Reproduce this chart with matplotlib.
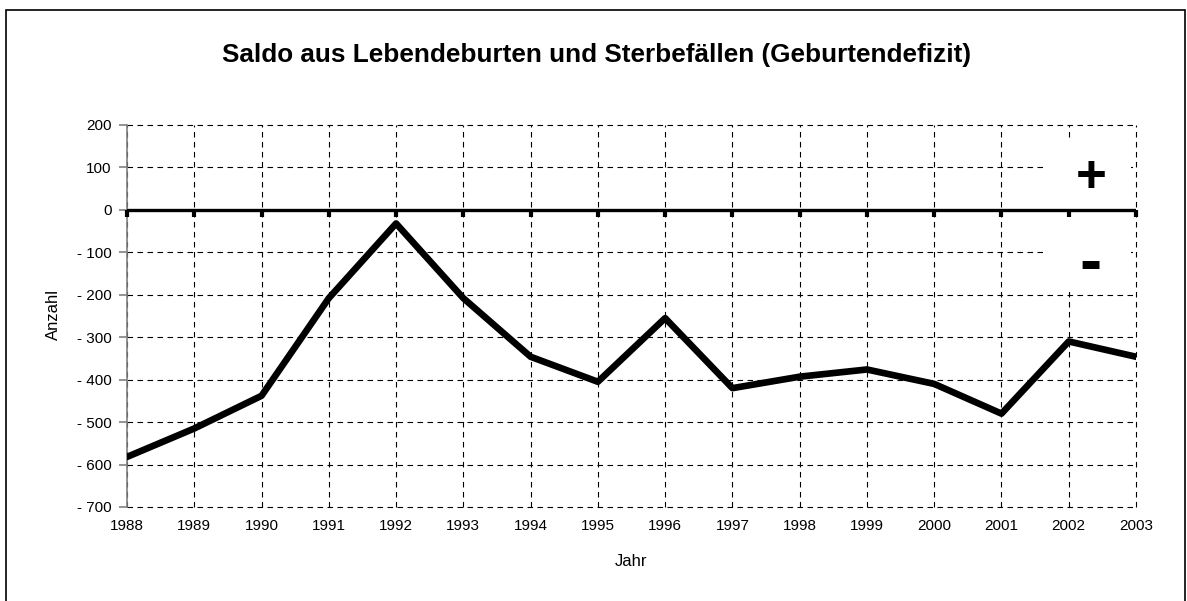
import matplotlib.pyplot as plt
from matplotlib.patches import Rectangle
from matplotlib.ticker import FuncFormatter

plt.rcParams['font.family'] = ['Liberation Sans', 'DejaVu Sans']

# Data
years = [1988, 1989, 1990, 1991, 1992, 1993, 1994, 1995,
         1996, 1997, 1998, 1999, 2000, 2001, 2002, 2003]
saldo = [-582, -515, -438, -208, -32, -208, -346, -405,
         -255, -420, -393, -376, -410, -480, -310, -346]
yticks = [200, 100, 0, -100, -200, -300, -400, -500, -600, -700]

fig = plt.figure(figsize=(11.87, 6.01), dpi=100)
ax = fig.add_axes([127 / 1187, 1 - 507 / 601, (1136 - 127) / 1187, (507 - 125) / 601])

# outer frame
fig.patches.append(Rectangle((6 / 1187, -0.05), (1186 - 6) / 1187 - 0.001, 1 - 10 / 601 + 0.05,
                             transform=fig.transFigure, fill=False, edgecolor='black', lw=1.2))

ax.set_xlim(years[0], years[-1])
ax.set_ylim(-700, 200)
ax.set_xticks(years)
ax.set_yticks(yticks)

def fmt(v, pos):
    v = int(round(v))
    return '- %d' % abs(v) if v < 0 else '%d' % v

ax.yaxis.set_major_formatter(FuncFormatter(fmt))
ax.tick_params(axis='x', length=0, pad=9, labelsize=11)
ax.tick_params(axis='y', length=6, width=1.2, color='#808080', labelsize=11, pad=5)

for s in ['top', 'right', 'bottom']:
    ax.spines[s].set_visible(False)
ax.spines['left'].set_color('#808080')
ax.spines['left'].set_linewidth(1.2)

ax.grid(True, color='black', linestyle=(0, (5, 4)), linewidth=0.8, zorder=0)
ax.set_axisbelow(True)
for gl in ax.get_xgridlines() + ax.get_ygridlines():
    gl.set_clip_on(False)

# white box behind the +/- signs
ax.add_patch(Rectangle((2001.62, -194), 1.3, 354, facecolor='white', edgecolor='none', zorder=1))

# zero line with small ticks
ax.axhline(0, color='black', lw=2.4, zorder=3)
ax.plot(years, [0] * len(years), linestyle='none', marker=3, markersize=5,
        markeredgewidth=3, color='black', zorder=3, clip_on=False)

ax.plot(years, saldo, color='black', lw=4.8, zorder=4)

ax.text(2002.33, 75, '+', fontsize=38, fontweight='bold', ha='center', va='center', zorder=5)
ax.text(2002.33, -130, '-', fontsize=48, fontweight='bold', ha='center', va='center', zorder=5)

fig.text(631 / 1187, 1 - 562 / 601, 'Jahr', ha='center', va='center', fontsize=12)
fig.text(53 / 1187, 1 - 315 / 601, 'Anzahl', ha='center', va='center', fontsize=12, rotation=90)
fig.text(597 / 1187, 1 - 55 / 601, 'Saldo aus Lebendeburten und Sterbefällen (Geburtendefizit)',
         ha='center', va='center', fontsize=18.8, fontweight='bold')

fig.savefig('out.png', dpi=100)
